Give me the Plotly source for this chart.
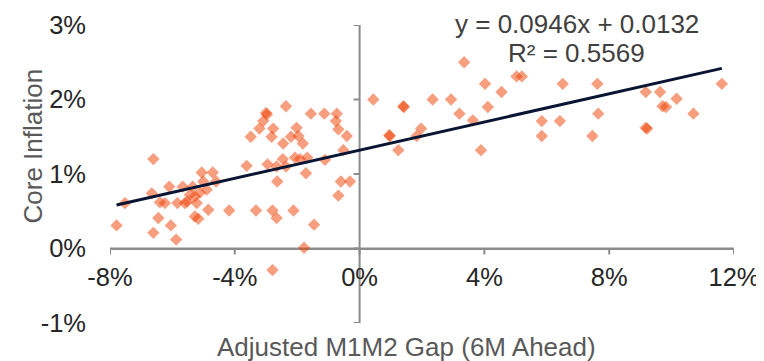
import plotly.graph_objects as go

# Adjusted M1M2 gap (6M ahead), % and core inflation, %
gap_left = [-6.61, -7.52, -7.79, -6.66, -6.45, -6.61, -6.40, -6.24, -6.10, -6.05, -5.88, -5.84,
            -5.67, -5.60, -5.52, -5.44, -5.35, -5.28, -5.22, -5.12, -5.28, -5.17, -5.06, -5.01,
            -4.90, -4.71, -4.60, -4.85, -4.18]
infl_left = [1.20, 0.61, 0.31, 0.74, 0.41, 0.21, 0.62, 0.61, 0.83, 0.31, 0.12, 0.61,
             0.83, 0.61, 0.63, 0.72, 0.83, 0.70, 0.61, 0.75, 0.43, 0.40, 1.02, 0.90,
             0.79, 1.02, 0.90, 0.52, 0.51]

gap_mid = [-2.36, -3.00, -2.97, -3.09, -3.21, -3.49, -2.77, -2.82, -2.45, -2.20, -2.02, -1.96,
           -1.82, -1.56, -1.13, -0.73, -0.76, -0.68, -0.41, -0.52, -3.62, -2.95, -2.66, -2.46,
           -2.36, -2.07, -1.91, -1.68, -1.11, -1.72, -2.64, -0.60, -0.31, -0.68, -3.32, -2.79,
           -2.66, -2.12, -1.46, -1.78, -2.79]
infl_mid = [1.91, 1.82, 1.80, 1.71, 1.61, 1.50, 1.61, 1.50, 1.41, 1.50, 1.62, 1.51,
            1.41, 1.81, 1.81, 1.81, 1.71, 1.60, 1.51, 1.32, 1.11, 1.13, 1.10, 1.20,
            1.10, 1.22, 1.20, 1.22, 1.19, 1.01, 0.90, 0.90, 0.90, 0.71, 0.51, 0.51,
            0.41, 0.51, 0.32, 0.01, -0.29]

gap_right = [0.44, 1.42, 1.40, 2.34, 2.93, 3.35, 4.02, 3.20, 4.11, 3.63, 0.97, 0.95,
             1.97, 1.83, 1.24, 3.89, 5.03, 5.20, 6.51, 7.62, 4.55, 5.84, 6.42, 5.84,
             7.46, 7.65, 9.17, 9.63, 10.16, 9.71, 9.82, 10.70, 11.61, 9.17, 9.22]
infl_right = [2.00, 1.90, 1.91, 2.00, 2.00, 2.50, 2.21, 1.81, 1.90, 1.72, 1.51, 1.52,
              1.61, 1.51, 1.32, 1.32, 2.31, 2.31, 2.21, 2.21, 2.10, 1.71, 1.71, 1.51,
              1.51, 1.81, 2.10, 2.10, 2.01, 1.91, 1.90, 1.81, 2.21, 1.62, 1.61]

gap = gap_left + gap_mid + gap_right
inflation = infl_left + infl_mid + infl_right

# Trendline as stated on the chart (in fraction units)
slope = 0.0946
intercept = 0.0132
equation_text = "y = 0.0946x + 0.0132"
r2_text = "R² = 0.5569"

x_ticks = [-8, -4, 0, 4, 8, 12]
x_tick_labels = ["-8%", "-4%", "0%", "4%", "8%", "12%"]
y_ticks = [-1, 0, 1, 2, 3]
y_tick_labels = ["-1%", "0%", "1%", "2%", "3%"]

trend_x = [min(gap), max(gap)]
trend_y = [(slope * (v / 100) + intercept) * 100 for v in trend_x]

FONT = "Liberation Sans, Arial, sans-serif"
AXIS_COL = "#8c8c8c"
X_RANGE = [-8, 12]
Y_RANGE = [-1, 3]
PLOT_W, PLOT_H = 624, 298
ux = (X_RANGE[1] - X_RANGE[0]) / PLOT_W   # x units per pixel
uy = (Y_RANGE[1] - Y_RANGE[0]) / PLOT_H   # y units per pixel
TICK_PX = 6

fig = go.Figure()
fig.add_trace(go.Scatter(
    x=gap, y=inflation, mode="markers", cliponaxis=False,
    marker=dict(symbol="diamond", size=9.5, color="rgb(240,62,0)", opacity=0.5,
                line=dict(width=0)),
    showlegend=False, hoverinfo="skip",
))
fig.add_trace(go.Scatter(
    x=trend_x, y=trend_y, mode="lines",
    line=dict(color="#0a1433", width=3),
    showlegend=False, hoverinfo="skip",
))

# axes crossing at the origin, drawn as thin filled bars, with outward tick marks
bar = dict(type="rect", xref="x", yref="y", fillcolor=AXIS_COL,
           line=dict(width=0), layer="below")
shapes = [
    dict(bar, x0=X_RANGE[0], x1=X_RANGE[1], y0=-uy, y1=uy),
    dict(bar, x0=-ux, x1=ux, y0=Y_RANGE[0], y1=Y_RANGE[1]),
]
for tv in x_ticks:
    shapes.append(dict(bar, x0=tv - ux, x1=tv + ux, y0=-TICK_PX * uy, y1=0))
for tv in y_ticks:
    shapes.append(dict(bar, x0=-TICK_PX * ux, x1=0, y0=tv - uy, y1=tv + uy))

fig.update_layout(
    width=756, height=353,
    margin=dict(l=102, r=30, t=17, b=38, autoexpand=False),
    paper_bgcolor="white", plot_bgcolor="white",
    font=dict(family=FONT, size=26, color="#262626"),
    shapes=shapes,
    xaxis=dict(
        range=X_RANGE, tickvals=x_ticks, ticktext=x_tick_labels,
        anchor="free", position=0.25,
        showline=False, ticks="outside", ticklen=6, tickcolor="rgba(0,0,0,0)",
        showgrid=False, zeroline=False, automargin=False,
        tickfont=dict(size=25.5, color="#262626"),
    ),
    yaxis=dict(
        range=Y_RANGE, tickvals=y_ticks, ticktext=y_tick_labels,
        showline=False, ticks="", showgrid=False,
        zeroline=True, zerolinecolor=AXIS_COL, zerolinewidth=2,
        automargin=False,
        tickfont=dict(size=25.5, color="#262626"),
        ticklabelstandoff=23,
    ),
    annotations=[
        dict(text="Core Inflation", textangle=-90, xref="paper", yref="paper",
             x=-0.1234, y=0.5956, xanchor="center", yanchor="middle", showarrow=False,
             font=dict(size=26, color="#595959")),
        dict(text="Adjusted M1M2 Gap (6M Ahead)", xref="paper", yref="paper",
             x=0.4744, y=-0.0805, xanchor="center", yanchor="middle", showarrow=False,
             font=dict(size=26, color="#595959")),
        dict(text=equation_text, xref="paper", yref="paper",
             x=0.748, y=1.003, xanchor="center", yanchor="middle", showarrow=False,
             font=dict(size=26, color="#404040")),
        dict(text=r2_text, xref="paper", yref="paper",
             x=0.748, y=0.906, xanchor="center", yanchor="middle", showarrow=False,
             font=dict(size=26, color="#404040")),
    ],
)

fig.write_html("out.html")
